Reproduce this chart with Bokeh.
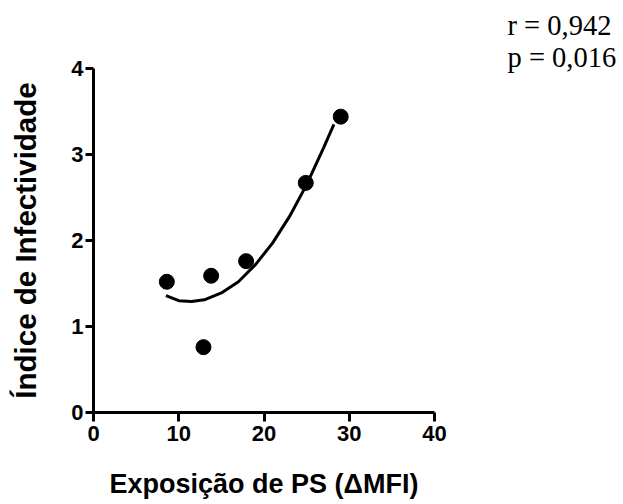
from bokeh.plotting import figure
from bokeh.models import Range1d, Title, FixedTicker
from bokeh.embed import file_html
from bokeh.resources import INLINE

# Data points (PS exposure ΔMFI vs infectivity index)
ps_exposure = [8.6, 12.9, 13.8, 17.9, 24.9, 29.0]
infectivity = [1.52, 0.76, 1.59, 1.76, 2.67, 3.44]

# Fitted curve
fit_x = [8.5, 10.0, 11.5, 13.0, 15.0, 17.0, 19.0, 21.0, 23.0, 25.0, 27.0, 28.2]
fit_y = [1.36, 1.30, 1.29, 1.31, 1.39, 1.52, 1.72, 1.97, 2.28, 2.65, 3.08, 3.35]

x_ticks = [0, 10, 20, 30, 40]
y_ticks = [0, 1, 2, 3, 4]
stats_lines = ["r = 0,942", "p = 0,016"]

W, H = 620, 504
p = figure(width=W, height=H, output_backend="svg", toolbar_location=None,
           x_range=Range1d(0, 40), y_range=Range1d(0, 4),
           min_border_left=93, min_border_right=W - 434, min_border_top=68,
           min_border_bottom=H - 412)

p.outline_line_color = None
p.grid.visible = False
p.background_fill_color = "white"
p.border_fill_color = "white"

p.xaxis.ticker = FixedTicker(ticks=x_ticks)
p.yaxis.ticker = FixedTicker(ticks=y_ticks)

for ax in (p.xaxis[0], p.yaxis[0]):
    ax.axis_line_width = 3
    ax.axis_line_color = "black"
    ax.major_tick_line_width = 3
    ax.major_tick_line_color = "black"
    ax.major_tick_in = 0
    ax.minor_tick_line_color = None
    ax.major_label_text_font = "Liberation Sans"
    ax.major_label_text_font_style = "bold"
    ax.major_label_text_font_size = "22px"
    ax.major_label_text_color = "black"
    ax.axis_label_text_font = "Liberation Sans"
    ax.axis_label_text_font_style = "bold"
    ax.axis_label_text_color = "black"

p.xaxis.major_tick_out = 9
p.yaxis.major_tick_out = 8
p.xaxis.major_label_standoff = 4
p.yaxis.major_label_standoff = 2

p.xaxis.axis_label = "Exposição de PS (ΔMFI)"
p.xaxis.axis_label_text_font_size = "27px"
p.xaxis.axis_label_standoff = 25
p.yaxis.axis_label = "Índice de Infectividade"
p.yaxis.axis_label_text_font_size = "29.5px"
p.yaxis.axis_label_standoff = 26

p.line(fit_x, fit_y, line_color="black", line_width=3)
p.scatter(ps_exposure, infectivity, size=15, color="black")

stats = Title(text="\n".join(stats_lines), align="left", offset=507 - 93,
              text_font="Liberation Serif", text_font_size="28.5px",
              text_font_style="normal", text_color="black",
              text_line_height=1.03, standoff=-9, vertical_align="bottom")
p.add_layout(stats, "above")

open("out.html", "w").write(file_html(p, INLINE))
